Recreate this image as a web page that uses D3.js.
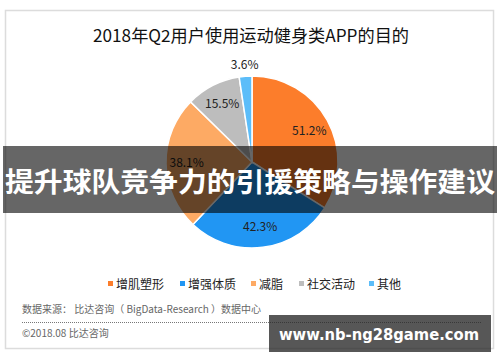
<!DOCTYPE html>
<html><head><meta charset="utf-8">
<script src="https://cdn.jsdelivr.net/npm/d3@7/dist/d3.min.js"></script>
<style>
html,body{margin:0;padding:0;background:#fff;}
svg{display:block;}
</style></head>
<body>
<svg id="c" width="500" height="362"></svg>
<script>
const title = "2018年Q2用户使用运动健身类APP的目的";
const categories = ["增肌塑形", "增强体质", "减脂", "社交活动", "其他"];
const values = [51.2, 42.3, 38.1, 15.5, 3.6];
const colors = ["#FC7D2B", "#2196F3", "#FDAA64", "#BDBDBD", "#5CBDF9"];
const bannerText = "提升球队竞争力的引援策略与操作建议";
const sourceText = "数据来源： 比达咨询（ BigData-Research ）数据中心";
const copyText = "©2018.08  比达咨询";
const watermark = "www.nb-ng28game.com";

const font = "'Noto Sans CJK SC', 'Noto Sans', sans-serif";
const svg = d3.select("#c");

// frame
svg.append("rect").attr("x",5.5).attr("y",10.5).attr("width",488).attr("height",338)
  .attr("fill","#fff").attr("stroke","#dcdcdc").attr("stroke-width",1.5);

// title
svg.append("text").attr("x",251).attr("y",42).attr("text-anchor","middle")
  .attr("font-family",font).attr("font-size",17).attr("fill","#111")
  .attr("textLength",316).attr("lengthAdjust","spacingAndGlyphs").text(title);

// pie
const cx = 252, cy = 162, r = 86;
const pie = d3.pie().sort(null).value(d => d);
const arcs = pie(values);
const arc = d3.arc().innerRadius(0).outerRadius(r);
const labelArc = d3.arc().innerRadius(r*0.76).outerRadius(r*0.76);
const outArc = d3.arc().innerRadius(r*1.13).outerRadius(r*1.13);
const color = d3.scaleOrdinal().domain(categories).range(colors);
const g = svg.append("g").attr("transform",`translate(${cx},${cy})`);
g.selectAll("path").data(arcs).join("path")
  .attr("d",arc).attr("fill",(d,i)=>color(categories[i]))
  .attr("stroke","#fff").attr("stroke-width",1.5);
g.selectAll("text.lbl").data(arcs).join("text").attr("class","lbl")
  .attr("transform",(d,i)=>{
    const p = (d.endAngle-d.startAngle) < 0.3 ? outArc.centroid(d) : labelArc.centroid(d);
    return `translate(${p[0]},${p[1]})`;
  })
  .attr("text-anchor","middle").attr("dy","0.35em")
  .attr("font-family",font).attr("font-size",12).attr("fill","#222")
  .text(d => d.value.toFixed(1) + "%");

// legend
const legendX = [108, 180, 251, 299, 369];
const lg = svg.append("g");
categories.forEach((c,i)=>{
  lg.append("rect").attr("x",legendX[i]).attr("y",281).attr("width",5).attr("height",5).attr("fill",colors[i]);
  lg.append("text").attr("x",legendX[i]+8).attr("y",288.5)
    .attr("font-family",font).attr("font-size",12).attr("fill","#222").text(c);
});

// source
svg.append("text").attr("x",22).attr("y",313).attr("font-family",font).attr("font-size",10)
  .attr("fill","#666").text(sourceText);
svg.append("line").attr("x1",22).attr("x2",481).attr("y1",322.5).attr("y2",322.5)
  .attr("stroke","#777").attr("stroke-width",1).attr("stroke-dasharray","1,1");
svg.append("text").attr("x",22).attr("y",337).attr("font-family",font).attr("font-size",10)
  .attr("fill","#666").text(copyText);

// banner
svg.append("rect").attr("x",3).attr("y",146).attr("width",494).attr("height",67)
  .attr("fill","rgba(0,0,0,0.6)");
svg.append("text").attr("x",250).attr("y",183).attr("text-anchor","middle").attr("dy","0.35em")
  .attr("font-family",font).attr("font-weight","bold").attr("font-size",27)
  .attr("fill","#fff").attr("textLength",490).attr("lengthAdjust","spacingAndGlyphs").text(bannerText);

// watermark
svg.append("rect").attr("x",269).attr("y",315).attr("width",222).attr("height",37)
  .attr("fill","rgba(40,40,40,0.78)");
svg.append("text").attr("x",379).attr("y",334).attr("text-anchor","middle").attr("dy","0.35em")
  .attr("font-family","'DejaVu Sans', sans-serif").attr("font-weight","bold").attr("font-size",16)
  .attr("fill","#fff").attr("textLength",200).attr("lengthAdjust","spacingAndGlyphs").text(watermark);
</script>
</body></html>
